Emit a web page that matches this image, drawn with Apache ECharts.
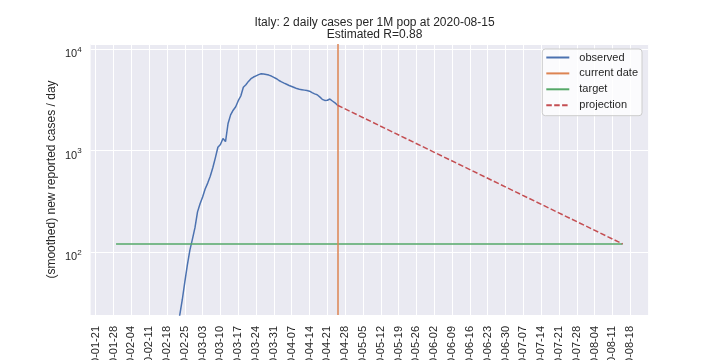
<!DOCTYPE html>
<html><head><meta charset="utf-8">
<script src="https://cdn.jsdelivr.net/npm/echarts@6/dist/echarts.min.js"></script>
<style>html,body{margin:0;padding:0;background:#fff}#c{width:720px;height:360px}</style>
</head><body><div id="c"></div>
<script>
// ---- data ----
const titleLines = ['Italy: 2 daily cases per 1M pop at 2020-08-15', 'Estimated R=0.88'];
const yAxisName = '(smoothed) new reported cases / day';
const axisStart = '2020-01-19';
const axisEnd = '2020-08-25';
const firstTickDate = '2020-01-21';
const lastTickDate = '2020-08-18';
const tickStepDays = 7;
const observedStart = '2020-02-21';
const observedValues = [
  12, 17, 24, 34, 51, 75, 105, 135, 175, 250,
  300, 350, 420, 480, 560, 680, 850, 1080, 1150, 1320,
  1230, 1850, 2250, 2500, 2700, 3100, 3450, 4200, 4450, 4800,
  5100, 5300, 5450, 5600, 5700, 5680, 5620, 5540, 5420, 5260,
  5100, 4900, 4750, 4620, 4500, 4380, 4280, 4180, 4080, 4020,
  3980, 3940, 3900, 3850, 3720, 3620, 3550, 3380, 3200, 3120,
  3130, 3220, 3080, 2960, 2800
];
const currentDate = '2020-04-25';
const targetDates = ['2020-01-29', '2020-08-15'];
const targetValue = 121;
const projectionDates = ['2020-04-25', '2020-08-15'];
const projectionValues = [2800, 121];
const yMin = 24.2, yMax = 11200;
const yTickExponents = [2, 3, 4];
const legendNames = ['observed', 'current date', 'target', 'projection'];

// ---- helpers ----
function addDays(s, n) {
  const d = new Date(s + 'T00:00:00Z');
  d.setUTCDate(d.getUTCDate() + n);
  return d.toISOString().slice(0, 10);
}
const categories = [];
for (let s = axisStart; s <= axisEnd; s = addDays(s, 1)) categories.push(s);
const tickOffset = categories.indexOf(firstTickDate);
const tickLast = categories.indexOf(lastTickDate);
const isTick = (i) => i >= tickOffset && i <= tickLast && (i - tickOffset) % tickStepDays === 0;

const observedData = observedValues.map((v, i) => [addDays(observedStart, i), v]);
const targetData = targetDates.map(d => [d, targetValue]);
const projectionData = projectionDates.map((d, i) => [d, projectionValues[i]]);

const C = { blue: '#4C72B0', orange: '#DD8452', green: '#55A868', red: '#C44E52', text: '#262626' };
const FF = '"Liberation Sans", Arial, sans-serif';

const chart = echarts.init(document.getElementById('c'), null, { renderer: 'canvas' });
chart.setOption({
  animation: false,
  textStyle: { fontFamily: FF },
  title: {
    text: titleLines.join('\n'),
    left: 369.5, textAlign: 'center', top: 12,
    textStyle: { fontSize: 12, fontWeight: 'normal', color: C.text, lineHeight: 12, fontFamily: FF }
  },
  legend: {
    data: legendNames,
    orient: 'vertical', right: 78, top: 49,
    itemWidth: 23, itemHeight: 10, itemGap: 4.9,
    padding: [3, 4, 5, 3],
    backgroundColor: 'rgba(255,255,255,0.8)',
    borderColor: '#cccccc', borderWidth: 1, borderRadius: 3,
    itemStyle: { color: 'rgba(0,0,0,0)', borderColor: 'rgba(0,0,0,0)', borderWidth: 0, opacity: 0 },
    textStyle: { fontSize: 11, color: C.text, fontFamily: FF, padding: [0, 0, 0, 5] }
  },
  grid: {
    left: 90.6, right: 71.9, top: 44, bottom: 45,
    show: true, backgroundColor: '#EAEAF2', borderWidth: 0,
    containLabel: false, outerBoundsMode: 'none'
  },
  xAxis: {
    type: 'category', data: categories, boundaryGap: false,
    axisLine: { show: false }, axisTick: { show: false },
    axisLabel: { interval: isTick, rotate: 90, fontSize: 11, color: C.text, margin: 11, fontFamily: FF },
    splitLine: { show: true, interval: isTick, lineStyle: { color: '#ffffff', width: 1 } }
  },
  yAxis: {
    type: 'log', logBase: 10, min: yMin, max: yMax,
    name: yAxisName, nameLocation: 'middle', nameGap: 33, nameMoveOverlap: false,
    nameTextStyle: { fontSize: 12, color: C.text, fontFamily: FF },
    axisLine: { show: false }, axisTick: { show: false },
    splitLine: { show: true, lineStyle: { color: '#ffffff', width: 1 } },
    axisLabel: {
      margin: 9,
      formatter: (v) => {
        const l = Math.log10(v), e = Math.round(l);
        if (Math.abs(l - e) < 1e-6 && yTickExponents.includes(e)) return '{b|10}{s|' + e + '}';
        return '';
      },
      rich: {
        b: { fontSize: 11, color: C.text, lineHeight: 11, padding: [5, 0, 0, 0], verticalAlign: 'top', fontFamily: FF },
        s: { fontSize: 8, color: C.text, lineHeight: 9, padding: [2, 0, 0, 0], verticalAlign: 'top', fontFamily: FF }
      }
    }
  },
  series: [
    { name: 'observed', type: 'line', data: observedData, symbol: 'none', color: C.blue,
      lineStyle: { color: C.blue, width: 1.5 }, z: 3 },
    { name: 'current date', type: 'line', data: [], symbol: 'none', color: C.orange,
      lineStyle: { color: C.orange, width: 1.5 },
      markLine: { symbol: ['none', 'none'], silent: true, label: { show: false },
        lineStyle: { color: C.orange, width: 1.5, type: 'solid' }, data: [{ xAxis: currentDate }] } },
    { name: 'target', type: 'line', data: targetData, symbol: 'none', color: C.green,
      lineStyle: { color: C.green, width: 1.5 }, z: 4 },
    { name: 'projection', type: 'line', data: projectionData, symbol: 'none', color: C.red,
      lineStyle: { color: C.red, width: 1.5, type: [5.5, 2.4] }, z: 5 }
  ]
});
</script></body></html>
